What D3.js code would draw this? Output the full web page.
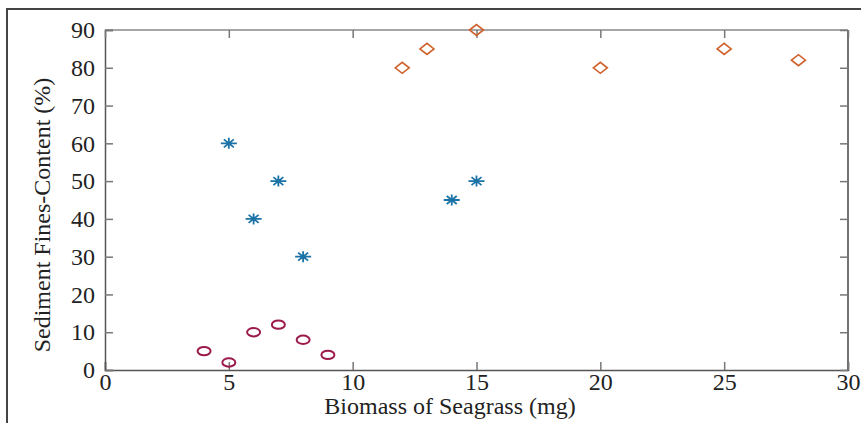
<!DOCTYPE html>
<html><head><meta charset="utf-8">
<script src="https://cdn.jsdelivr.net/npm/d3@7"></script>
<style>body{margin:0;background:#fff}svg{display:block}</style>
</head><body>
<script>
const xTicks = [0,5,10,15,20,25,30];
const yTicks = [0,10,20,30,40,50,60,70,80,90];
const circleX = [4,5,6,7,8,9];
const circleY = [5,2,10,12,8,4];
const starX = [5,6,7,8,14,15];
const starY = [60,40,50,30,45,50];
const diamondX = [12,13,15,20,25,28];
const diamondY = [80,85,90,80,85,82];
const xLabel = "Biomass of Seagrass (mg)";
const yLabel = "Sediment Fines-Content (%)";

const W = 861, H = 423;
const svg = d3.select("body").append("svg").attr("width", W).attr("height", H);
const font = "Liberation Serif, Times New Roman, serif";

// outer frame
svg.append("path").attr("d", `M7,${H} L7,9 L${W},9`).attr("fill","none").attr("stroke","#444").attr("stroke-width",2);

const x = d3.scaleLinear().domain([0,30]).range([105,848]);
const y = d3.scaleLinear().domain([0,90]).range([370,30]);

// top line
svg.append("line").attr("x1",x(0)).attr("x2",x(30)).attr("y1",y(90)).attr("y2",y(90)).attr("stroke","#888").attr("stroke-width",1.5);
// right line
svg.append("line").attr("x1",x(30)).attr("x2",x(30)).attr("y1",y(90)).attr("y2",y(0)).attr("stroke","#444").attr("stroke-width",1.5);

const xAxis = svg.append("g").attr("transform",`translate(0,${y(0)})`)
  .call(d3.axisBottom(x).tickValues(xTicks).tickSize(-8).tickPadding(3).tickFormat(d3.format("d")));
const yAxis = svg.append("g").attr("transform",`translate(${x(0)},0)`)
  .call(d3.axisLeft(y).tickValues(yTicks).tickSize(-8).tickPadding(10).tickFormat(d3.format("d")));
// top / right ticks
svg.append("g").attr("transform",`translate(0,${y(90)})`)
  .call(d3.axisTop(x).tickValues(xTicks).tickSize(-8).tickFormat("")).select(".domain").remove();
svg.append("g").attr("transform",`translate(${x(30)},0)`)
  .call(d3.axisRight(y).tickValues(yTicks).tickSize(-8).tickFormat("")).select(".domain").remove();

svg.selectAll("g").attr("font-family", null).attr("font-size", null);
svg.selectAll(".domain").attr("stroke","#555").attr("stroke-width",1.5);
svg.selectAll(".tick line").attr("stroke","#777").attr("stroke-width",1.5);
svg.selectAll(".tick text").style("font-family",font).style("font-size","24px").attr("fill","#222");
xAxis.selectAll(".tick text").attr("dy","0.71em");

// labels
svg.append("text").attr("x",450).attr("y",414).attr("text-anchor","middle")
  .style("font-family",font).style("font-size","24px").attr("fill","#222").text(xLabel);
svg.append("text").attr("transform",`translate(50,215) rotate(-90)`).attr("text-anchor","middle")
  .style("font-family",font).style("font-size","24px").attr("fill","#222").text(yLabel);

// circles
svg.append("g").selectAll("ellipse").data(circleX.map((d,i)=>[d,circleY[i]])).join("ellipse")
  .attr("cx",d=>x(d[0])).attr("cy",d=>y(d[1])).attr("rx",6.5).attr("ry",4.2)
  .attr("fill","none").attr("stroke","#9b1a4b").attr("stroke-width",2);

// asterisks
const starPath = "M-8,0L8,0M0,-5.5L0,5.5M-5,-4L5,4M-5,4L5,-4";
svg.append("g").selectAll("path").data(starX.map((d,i)=>[d,starY[i]])).join("path")
  .attr("transform",d=>`translate(${x(d[0])},${y(d[1])})`).attr("d",starPath)
  .attr("fill","none").attr("stroke","#1a72a6").attr("stroke-width",1.8);

// diamonds
svg.append("g").selectAll("path").data(diamondX.map((d,i)=>[d,diamondY[i]])).join("path")
  .attr("transform",d=>`translate(${x(d[0])},${y(d[1])})`).attr("d","M-7,0L0,-5.5L7,0L0,5.5Z")
  .attr("fill","none").attr("stroke","#d0602a").attr("stroke-width",1.6);
</script>
</body></html>
